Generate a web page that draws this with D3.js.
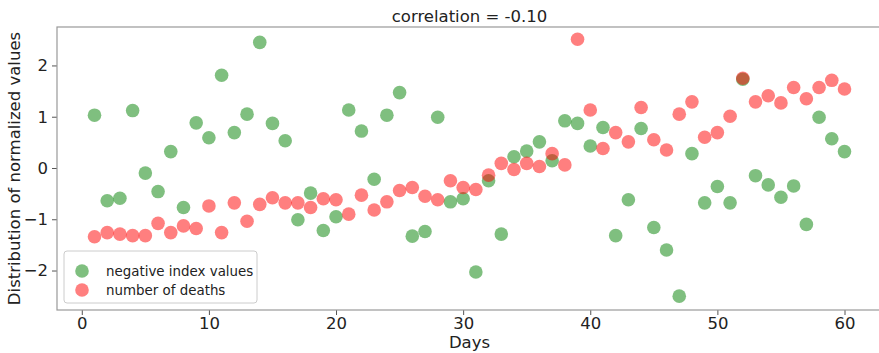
<!DOCTYPE html>
<html>
<head>
<meta charset="utf-8">
<script src="https://cdn.jsdelivr.net/npm/d3@7"></script>
<style>
  body { margin: 0; background: #fff; }
  svg { font-family: "DejaVu Sans", sans-serif; }
</style>
</head>
<body>
<div id="chart"></div>
<script>
const days = d3.range(1, 61);

// negative index values (normalized)
const indexValues = [
  1.03, -0.64, -0.59, 1.12, -0.10, -0.46, 0.32, -0.77, 0.88, 0.59,
  1.81, 0.69, 1.05, 2.45, 0.87, 0.53, -1.01, -0.49, -1.22, -0.95,
  1.13, 0.72, -0.22, 1.03, 1.47, -1.33, -1.24, 0.99, -0.66, -0.60,
  -2.03, -0.25, -1.29, 0.22, 0.33, 0.51, 0.14, 0.92, 0.87, 0.43,
  0.79, -1.32, -0.62, 0.77, -1.16, -1.60, -2.50, 0.28, -0.68, -0.36,
  -0.68, 1.73, -0.15, -0.33, -0.57, -0.35, -1.10, 0.99, 0.57, 0.32
];

// number of deaths (normalized)
const deathValues = [
  -1.34, -1.26, -1.29, -1.32, -1.32, -1.08, -1.26, -1.13, -1.18, -0.74,
  -1.26, -0.68, -1.04, -0.71, -0.58, -0.68, -0.68, -0.77, -0.60, -0.62,
  -0.90, -0.53, -0.82, -0.66, -0.44, -0.38, -0.55, -0.62, -0.25, -0.38,
  -0.42, -0.14, 0.09, -0.03, 0.09, 0.03, 0.28, 0.06, 2.51, 1.13,
  0.38, 0.69, 0.51, 1.18, 0.55, 0.35, 1.05, 1.29, 0.60, 0.69,
  1.01, 1.75, 1.29, 1.41, 1.27, 1.57, 1.35, 1.57, 1.71, 1.54
];

const xTicks = [0, 10, 20, 30, 40, 50, 60];
const yTicks = [-2, -1, 0, 1, 2];

const width = 879, height = 353;
const margin = { top: 27, left: 57 };
const plotW = 825, plotH = 283;
const fontSize = 16.5;

const svg = d3.select('#chart').append('svg')
  .attr('width', width)
  .attr('height', height);

const x = d3.scaleLinear().domain([-1.95, 62.95]).range([margin.left, margin.left + plotW]);
const y = d3.scaleLinear().domain([-2.77, 2.75]).range([margin.top + plotH, margin.top]);

const fmt = d => (d < 0 ? '\u2212' + Math.abs(d) : String(d));

// axes
const xAxis = svg.append('g')
  .attr('transform', 'translate(0,' + (margin.top + plotH) + ')')
  .call(d3.axisBottom(x).tickValues(xTicks).tickFormat(fmt).tickSize(5).tickPadding(2));
const yAxis = svg.append('g')
  .attr('transform', 'translate(' + margin.left + ',0)')
  .call(d3.axisLeft(y).tickValues(yTicks).tickFormat(fmt).tickSize(5).tickPadding(4));

[xAxis, yAxis].forEach(a => {
  a.select('.domain').remove();
  a.selectAll('line').attr('stroke', '#555');
  a.selectAll('text').attr('font-size', fontSize).attr('fill', '#222')
    .attr('font-family', '"DejaVu Sans", sans-serif');
});

// frame
svg.append('rect')
  .attr('x', margin.left).attr('y', margin.top)
  .attr('width', plotW).attr('height', plotH)
  .attr('fill', 'none').attr('stroke', '#999').attr('stroke-width', 1.2);

const r = 6.8;
const plot = svg.append('g');

plot.selectAll('circle.idx')
  .data(days.map((d, i) => [d, indexValues[i]]))
  .enter().append('circle')
  .attr('class', 'idx')
  .attr('cx', d => x(d[0]))
  .attr('cy', d => y(d[1]))
  .attr('r', r)
  .attr('fill', 'green')
  .attr('fill-opacity', 0.5);

plot.selectAll('circle.death')
  .data(days.map((d, i) => [d, deathValues[i]]))
  .enter().append('circle')
  .attr('class', 'death')
  .attr('cx', d => x(d[0]))
  .attr('cy', d => y(d[1]))
  .attr('r', r)
  .attr('fill', 'red')
  .attr('fill-opacity', 0.5);

// title and labels
svg.append('text')
  .attr('x', x(30.5)).attr('y', 22)
  .attr('text-anchor', 'middle')
  .attr('font-size', fontSize).attr('fill', '#222')
  .text('correlation = -0.10');

svg.append('text')
  .attr('x', x(30.5)).attr('y', 348)
  .attr('text-anchor', 'middle')
  .attr('font-size', fontSize).attr('fill', '#222')
  .text('Days');

svg.append('text')
  .attr('transform', 'translate(20,' + (margin.top + plotH / 2) + ') rotate(-90)')
  .attr('text-anchor', 'middle')
  .attr('font-size', fontSize).attr('fill', '#222')
  .text('Distribution of normalized values');

// legend
const legend = svg.append('g');
legend.append('rect')
  .attr('x', 64).attr('y', 251)
  .attr('width', 193).attr('height', 52)
  .attr('rx', 3)
  .attr('fill', 'white').attr('fill-opacity', 0.8)
  .attr('stroke', '#ccc');

const legendItems = [
  { label: 'negative index values', color: 'green' },
  { label: 'number of deaths', color: 'red' }
];
legendItems.forEach((it, i) => {
  const cy = 271 + i * 19;
  legend.append('circle')
    .attr('cx', 82).attr('cy', cy).attr('r', r)
    .attr('fill', it.color).attr('fill-opacity', 0.5);
  legend.append('text')
    .attr('x', 106).attr('y', cy + 5)
    .attr('font-size', 13.4).attr('fill', '#222')
    .text(it.label);
});
</script>
</body>
</html>
